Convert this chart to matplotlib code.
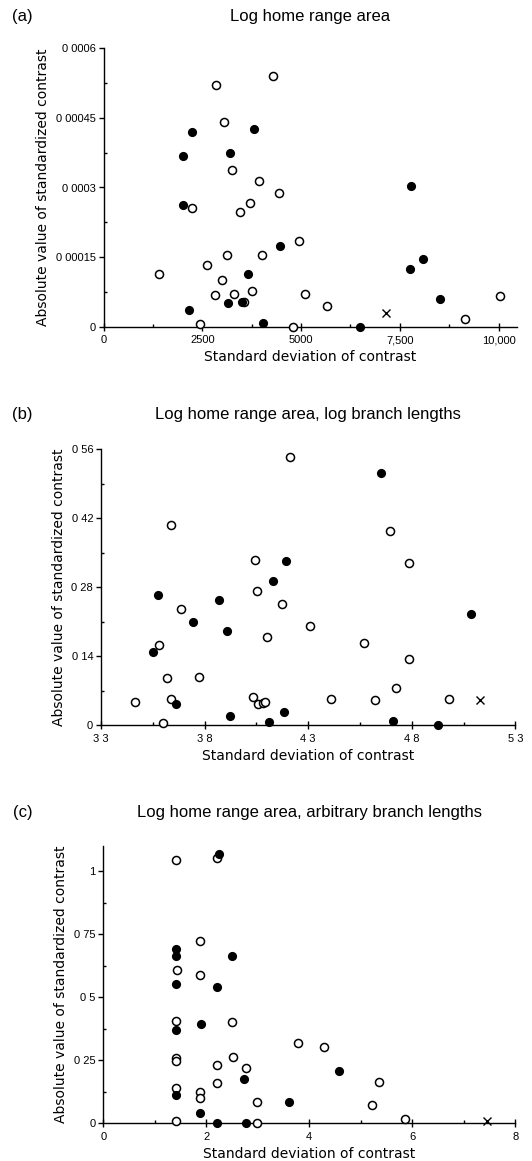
import matplotlib

matplotlib.use("Agg")
import matplotlib.pyplot as plt
from matplotlib.ticker import FixedLocator

plt.rcParams["font.family"] = ["DejaVu Sans"]

# ---- panel (a): log home range area ----
A_OPEN_X = [1400, 2855, 4283, 3062, 3251, 3939, 4455, 2245, 3707, 3466, 4945, 3122, 4000,
            2632, 3010, 2812, 3294, 3750, 3560, 5100, 5659, 2451, 4799, 9159, 10045]
A_OPEN_Y = [0.000114, 0.000520, 0.000541, 0.000442, 0.000338, 0.000313, 0.000288, 0.000256,
            0.000267, 0.000247, 0.000185, 0.000155, 0.000155, 0.000133, 0.000100, 0.0000688,
            0.000071, 0.000078, 0.000053, 0.0000695, 0.0000437, 0.0000065, 0.0, 0.0000172,
            0.0000652]
A_FILLED_X = [2253, 3818, 2012, 3199, 2004, 7792, 4472, 8093, 7749, 3664, 8523, 3156, 3500,
              2167, 4042, 6493]
A_FILLED_Y = [0.000419, 0.000425, 0.000368, 0.000374, 0.000263, 0.000303, 0.000174, 0.000146,
              0.000124, 0.000113, 0.0000602, 0.0000502, 0.000053, 0.0000351, 0.0000072, 0.0]
A_CROSS_X = [7164]
A_CROSS_Y = [0.00003]
A_XTICKS = [0, 2500, 5000, 7500, 10000]
A_XLABELS = ["0", "2500", "5000", "7,500", "10,000"]
A_YTICKS = [0, 0.00015, 0.0003, 0.00045, 0.0006]
A_YLABELS = ["0", "0 00015", "0 0003", "0 00045", "0 0006"]

# ---- panel (b): log branch lengths ----
B_OPEN_X = [3.466, 3.638, 3.580, 3.685, 3.620, 3.636, 3.600, 3.773, 4.044, 4.054, 4.175, 4.100,
            4.211, 4.310, 4.032, 4.056, 4.083, 4.091, 4.411, 4.569, 4.624, 4.693, 4.788, 4.785,
            4.723, 4.982]
B_OPEN_Y = [0.047, 0.405, 0.162, 0.2345, 0.096, 0.053, 0.004, 0.097, 0.334, 0.2715, 0.245, 0.179,
            0.543, 0.201, 0.057, 0.043, 0.045, 0.047, 0.052, 0.166, 0.050, 0.394, 0.329, 0.133,
            0.076, 0.052]
B_FILLED_X = [3.574, 3.553, 3.662, 3.744, 3.872, 3.910, 3.921, 4.128, 4.192, 4.182, 4.109, 4.651,
              4.710, 4.926, 5.087]
B_FILLED_Y = [0.263, 0.149, 0.043, 0.210, 0.254, 0.191, 0.018, 0.292, 0.333, 0.026, 0.006, 0.512,
              0.008, 0.001, 0.225]
B_CROSS_X = [5.132]
B_CROSS_Y = [0.050]
B_XTICKS = [3.3, 3.8, 4.3, 4.8, 5.3]
B_XLABELS = ["3 3", "3 8", "4 3", "4 8", "5 3"]
B_YTICKS = [0, 0.14, 0.28, 0.42, 0.56]
B_YLABELS = ["0", "0 14", "0 28", "0 42", "0 56"]

# ---- panel (c): arbitrary branch lengths ----
C_OPEN_X = [1.416, 2.21, 1.882, 1.423, 1.882, 1.42, 2.49, 3.784, 4.289, 1.42, 1.42, 2.525, 2.203,
            2.774, 2.21, 5.351, 1.416, 1.882, 1.882, 2.984, 5.22, 1.416, 5.849, 2.99]
C_OPEN_Y = [1.043, 1.053, 0.722, 0.609, 0.589, 0.404, 0.402, 0.319, 0.304, 0.258, 0.248, 0.2635,
            0.233, 0.219, 0.159, 0.163, 0.140, 0.126, 0.100, 0.083, 0.0725, 0.009, 0.017, 0.0]
C_FILLED_X = [2.256, 1.42, 1.42, 2.49, 1.42, 2.21, 1.889, 1.42, 2.728, 4.584, 1.42, 3.6, 1.875,
              2.21, 2.774]
C_FILLED_Y = [1.07, 0.693, 0.663, 0.665, 0.553, 0.541, 0.395, 0.372, 0.175, 0.209, 0.113, 0.0856,
              0.041, 0.0, 0.0]
C_CROSS_X = [7.449]
C_CROSS_Y = [0.009]
C_XTICKS = [0, 2, 4, 6, 8]
C_XLABELS = ["0", "2", "4", "6", "8"]
C_YTICKS = [0, 0.25, 0.5, 0.75, 1]
C_YLABELS = ["0", "0 25", "0 5", "0 75", "1"]

TITLES = ["Log home range area",
          "Log home range area, log branch lengths",
          "Log home range area, arbitrary branch lengths"]
LETTERS = ["(a)", "(b)", "(c)"]


def midpoints(ticks):
    return [(a + b) / 2 for a, b in zip(ticks[:-1], ticks[1:])]


def draw_panel(ax, ox, oy, fx, fy, cx, cy, xt, xl, yt, yl, xlim, ylim):
    ax.plot(ox, oy, "o", ms=5.8, mfc="white", mec="black", mew=1.1, clip_on=False, zorder=3)
    ax.plot(fx, fy, "o", ms=6.6, mfc="black", mec="black", mew=0, clip_on=False, zorder=4)
    ax.plot(cx, cy, "x", ms=5.5, color="black", mew=1.0, clip_on=False, zorder=4)

    ax.set_xlim(*xlim)
    ax.set_ylim(*ylim)
    for s in ["top", "right"]:
        ax.spines[s].set_visible(False)
    for s in ["left", "bottom"]:
        ax.spines[s].set_linewidth(1.0)

    ax.xaxis.set_major_locator(FixedLocator(xt))
    ax.set_xticklabels(xl)
    ax.xaxis.set_minor_locator(FixedLocator(midpoints(xt)))
    ax.yaxis.set_major_locator(FixedLocator(yt))
    ax.set_yticklabels(yl)
    ax.yaxis.set_minor_locator(FixedLocator(midpoints(yt) + [yt[-1] + (yt[1] - yt[0]) / 2]))

    ax.tick_params(axis="x", which="major", direction="inout", length=5.5, width=1.0,
                   pad=3.5, labelsize=8)
    ax.tick_params(axis="x", which="minor", direction="in", length=2, width=1.0)
    ax.tick_params(axis="y", which="major", direction="out", length=3.6, width=1.0,
                   pad=2, labelsize=8)
    ax.tick_params(axis="y", which="minor", direction="in", length=2, width=1.0)
    for lab in ax.get_xticklabels() + ax.get_yticklabels():
        lab.set_fontfamily("Liberation Sans")

    ax.set_xlabel("Standard deviation of contrast", fontsize=10, labelpad=3.5)
    ax.set_ylabel("Absolute value of standardized contrast", fontsize=10, labelpad=4)


fig = plt.figure(figsize=(5.32, 11.61), dpi=100)
W, H = 532, 1161

# axes boxes in pixels: x0, x1, ytop, ybottom
boxes = [(103.5, 516.7, 48.3, 326.7),
         (101.0, 515.3, 449.0, 725.0),
         (103.3, 515.3, 846.0, 1123.3)]
title_y = [16.7, 415.0, 812.3]

panels = [
    (A_OPEN_X, A_OPEN_Y, A_FILLED_X, A_FILLED_Y, A_CROSS_X, A_CROSS_Y,
     A_XTICKS, A_XLABELS, A_YTICKS, A_YLABELS, (0, 10460), (0, 0.0006)),
    (B_OPEN_X, B_OPEN_Y, B_FILLED_X, B_FILLED_Y, B_CROSS_X, B_CROSS_Y,
     B_XTICKS, B_XLABELS, B_YTICKS, B_YLABELS, (3.3, 5.3), (0, 0.56)),
    (C_OPEN_X, C_OPEN_Y, C_FILLED_X, C_FILLED_Y, C_CROSS_X, C_CROSS_Y,
     C_XTICKS, C_XLABELS, C_YTICKS, C_YLABELS, (0, 8), (0, 1.1)),
]

for (x0, x1, yt, yb), ty, args, title, letter in zip(boxes, title_y, panels, TITLES, LETTERS):
    ax = fig.add_axes([x0 / W, 1 - yb / H, (x1 - x0) / W, (yb - yt) / H])
    draw_panel(ax, *args)
    fig.text((x0 + x1) / 2 / W, 1 - ty / H, title, ha="center", va="center",
             fontsize=12, family="Liberation Sans")
    fig.text(22.7 / W, 1 - ty / H, letter, ha="center", va="center",
             fontsize=12, family="Liberation Sans")

fig.savefig("out.png", dpi=100)
